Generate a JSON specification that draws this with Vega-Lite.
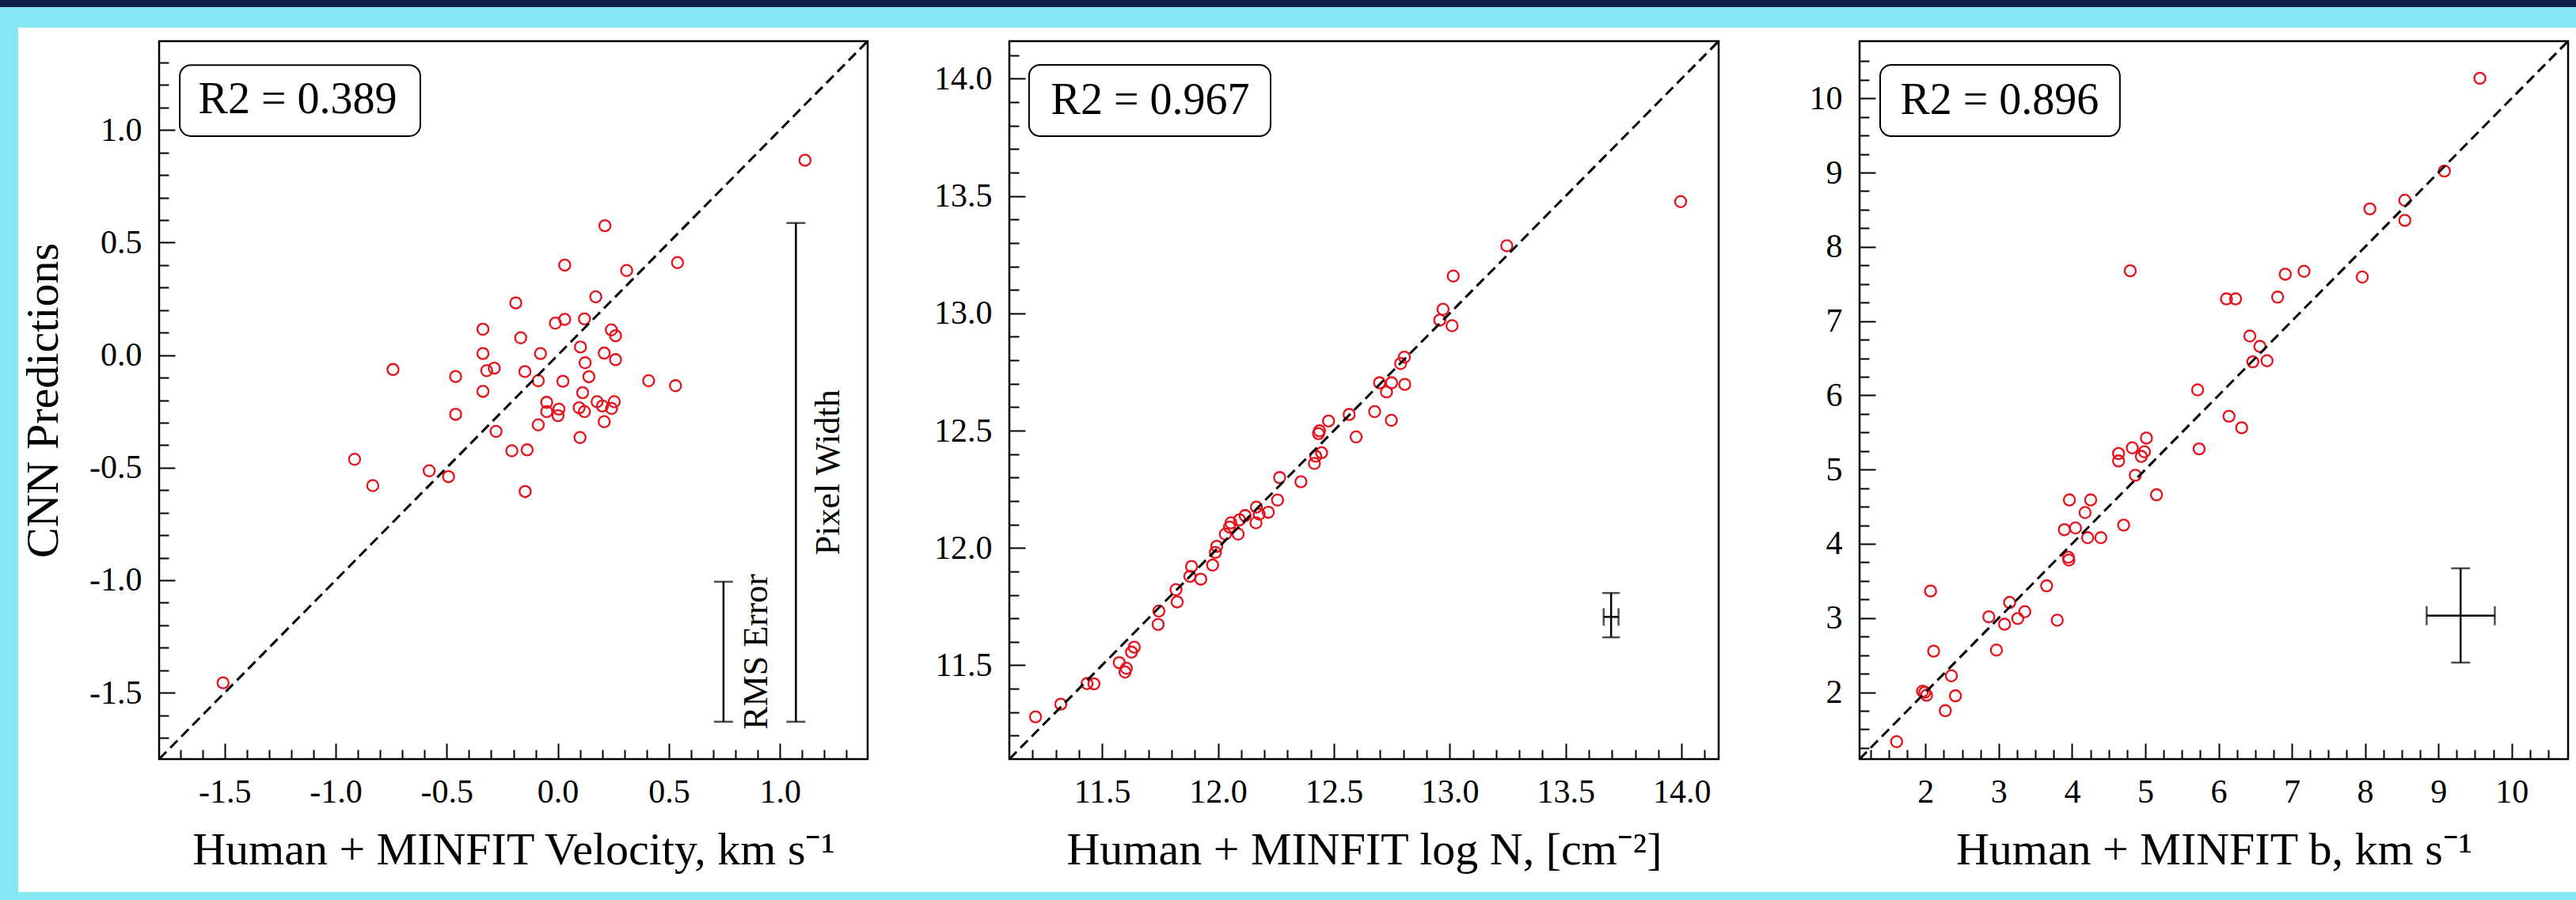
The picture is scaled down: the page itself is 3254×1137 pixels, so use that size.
{
  "$schema": "https://vega.github.io/schema/vega-lite/v6.json",
  "padding": 0,
  "background": "white",
  "bounds": "flush",
  "align": "each",
  "spacing": 0,
  "columns": 8,
  "config": {
    "view": {"stroke": null},
    "font": "Liberation Serif",
    "axis": {
      "grid": false, "domain": false, "tickColor": "black", "tickWidth": 2,
      "labelFont": "Liberation Serif", "labelFontSize": 42, "labelColor": "black",
      "labelFlush": false, "labelBound": false,
      "titleFont": "Liberation Serif", "titleFontSize": 58, "titleFontWeight": "normal", "titleColor": "black"
    }
  },
  "datasets": {
    "velocity": [
      {"human": 1.113, "cnn": 0.866}, {"human": 0.212, "cnn": 0.575}, {"human": 0.031, "cnn": 0.400}, {"human": 0.310, "cnn": 0.376},
      {"human": 0.539, "cnn": 0.411}, {"human": 0.171, "cnn": 0.259}, {"human": -0.189, "cnn": 0.232}, {"human": -0.011, "cnn": 0.142},
      {"human": 0.031, "cnn": 0.159}, {"human": 0.120, "cnn": 0.161}, {"human": -0.337, "cnn": 0.115}, {"human": -0.167, "cnn": 0.077},
      {"human": 0.241, "cnn": 0.112}, {"human": 0.260, "cnn": 0.086}, {"human": 0.102, "cnn": 0.036}, {"human": -0.078, "cnn": 0.007},
      {"human": -0.337, "cnn": 0.007}, {"human": 0.209, "cnn": 0.009}, {"human": 0.123, "cnn": -0.034}, {"human": 0.260, "cnn": -0.020},
      {"human": -0.742, "cnn": -0.064}, {"human": -0.320, "cnn": -0.069}, {"human": -0.286, "cnn": -0.058}, {"human": -0.148, "cnn": -0.073},
      {"human": -0.460, "cnn": -0.095}, {"human": 0.140, "cnn": -0.096}, {"human": -0.088, "cnn": -0.114}, {"human": 0.023, "cnn": -0.116},
      {"human": 0.409, "cnn": -0.114}, {"human": 0.530, "cnn": -0.136}, {"human": -0.337, "cnn": -0.161}, {"human": 0.112, "cnn": -0.167},
      {"human": -0.050, "cnn": -0.210}, {"human": 0.177, "cnn": -0.207}, {"human": 0.254, "cnn": -0.207}, {"human": 0.201, "cnn": -0.226},
      {"human": 0.242, "cnn": -0.237}, {"human": 0.096, "cnn": -0.234}, {"human": -0.050, "cnn": -0.251}, {"human": 0.005, "cnn": -0.240},
      {"human": 0.001, "cnn": -0.269}, {"human": 0.120, "cnn": -0.251}, {"human": -0.460, "cnn": -0.263}, {"human": 0.209, "cnn": -0.296},
      {"human": -0.088, "cnn": -0.310}, {"human": -0.278, "cnn": -0.339}, {"human": 0.100, "cnn": -0.366}, {"human": -0.207, "cnn": -0.425},
      {"human": -0.138, "cnn": -0.421}, {"human": -0.915, "cnn": -0.463}, {"human": -0.579, "cnn": -0.514}, {"human": -0.492, "cnn": -0.540},
      {"human": -0.833, "cnn": -0.580}, {"human": -0.147, "cnn": -0.606}, {"human": -1.507, "cnn": -1.456}
    ],
    "logn": [
      {"human": 11.213, "cnn": 11.280}, {"human": 11.322, "cnn": 11.334}, {"human": 11.435, "cnn": 11.422}, {"human": 11.465, "cnn": 11.421},
      {"human": 11.574, "cnn": 11.511}, {"human": 11.605, "cnn": 11.487}, {"human": 11.599, "cnn": 11.471}, {"human": 11.627, "cnn": 11.556},
      {"human": 11.639, "cnn": 11.577}, {"human": 11.742, "cnn": 11.674}, {"human": 11.745, "cnn": 11.731}, {"human": 11.824, "cnn": 11.770},
      {"human": 11.819, "cnn": 11.822}, {"human": 11.879, "cnn": 11.879}, {"human": 11.886, "cnn": 11.921}, {"human": 11.926, "cnn": 11.867},
      {"human": 11.977, "cnn": 11.927}, {"human": 11.989, "cnn": 11.981}, {"human": 11.995, "cnn": 12.007}, {"human": 12.032, "cnn": 12.059},
      {"human": 12.087, "cnn": 12.059}, {"human": 12.050, "cnn": 12.089}, {"human": 12.056, "cnn": 12.107}, {"human": 12.093, "cnn": 12.120},
      {"human": 12.117, "cnn": 12.138}, {"human": 12.164, "cnn": 12.107}, {"human": 12.178, "cnn": 12.144}, {"human": 12.166, "cnn": 12.174},
      {"human": 12.217, "cnn": 12.152}, {"human": 12.257, "cnn": 12.204}, {"human": 12.266, "cnn": 12.300}, {"human": 12.358, "cnn": 12.282},
      {"human": 12.416, "cnn": 12.360}, {"human": 12.422, "cnn": 12.391}, {"human": 12.447, "cnn": 12.406}, {"human": 12.434, "cnn": 12.487},
      {"human": 12.438, "cnn": 12.499}, {"human": 12.477, "cnn": 12.541}, {"human": 12.566, "cnn": 12.569}, {"human": 12.596, "cnn": 12.473},
      {"human": 12.676, "cnn": 12.581}, {"human": 12.727, "cnn": 12.665}, {"human": 12.697, "cnn": 12.704}, {"human": 12.749, "cnn": 12.704},
      {"human": 12.748, "cnn": 12.544}, {"human": 12.806, "cnn": 12.697}, {"human": 12.788, "cnn": 12.786}, {"human": 12.804, "cnn": 12.813},
      {"human": 12.957, "cnn": 12.971}, {"human": 12.971, "cnn": 13.017}, {"human": 13.010, "cnn": 12.947}, {"human": 13.015, "cnn": 13.159},
      {"human": 13.246, "cnn": 13.288}, {"human": 13.996, "cnn": 13.476}
    ],
    "bparam": [
      {"human": 9.566, "cnn": 10.270}, {"human": 9.082, "cnn": 9.020}, {"human": 8.065, "cnn": 8.511}, {"human": 8.542, "cnn": 8.627},
      {"human": 8.542, "cnn": 8.356}, {"human": 7.961, "cnn": 7.593}, {"human": 7.166, "cnn": 7.670}, {"human": 6.910, "cnn": 7.631},
      {"human": 6.806, "cnn": 7.323}, {"human": 4.794, "cnn": 7.677}, {"human": 6.108, "cnn": 7.299}, {"human": 6.232, "cnn": 7.299},
      {"human": 6.426, "cnn": 6.798}, {"human": 6.564, "cnn": 6.659}, {"human": 6.467, "cnn": 6.451}, {"human": 6.661, "cnn": 6.466},
      {"human": 5.714, "cnn": 6.073}, {"human": 6.142, "cnn": 5.718}, {"human": 6.315, "cnn": 5.563}, {"human": 5.734, "cnn": 5.278},
      {"human": 5.015, "cnn": 5.424}, {"human": 4.635, "cnn": 5.216}, {"human": 4.635, "cnn": 5.116}, {"human": 4.822, "cnn": 5.293},
      {"human": 4.946, "cnn": 5.177}, {"human": 4.988, "cnn": 5.239}, {"human": 4.863, "cnn": 4.923}, {"human": 5.153, "cnn": 4.660},
      {"human": 3.964, "cnn": 4.591}, {"human": 4.254, "cnn": 4.591}, {"human": 4.178, "cnn": 4.421}, {"human": 3.895, "cnn": 4.190},
      {"human": 4.047, "cnn": 4.213}, {"human": 4.213, "cnn": 4.082}, {"human": 4.393, "cnn": 4.082}, {"human": 4.704, "cnn": 4.252},
      {"human": 3.950, "cnn": 3.819}, {"human": 3.957, "cnn": 3.781}, {"human": 3.653, "cnn": 3.434}, {"human": 3.798, "cnn": 2.971},
      {"human": 3.148, "cnn": 3.210}, {"human": 3.355, "cnn": 3.086}, {"human": 3.259, "cnn": 2.994}, {"human": 2.864, "cnn": 3.017},
      {"human": 3.079, "cnn": 2.917}, {"human": 2.968, "cnn": 2.569}, {"human": 2.069, "cnn": 3.364}, {"human": 2.111, "cnn": 2.554},
      {"human": 2.353, "cnn": 2.222}, {"human": 2.408, "cnn": 1.952}, {"human": 2.270, "cnn": 1.752}, {"human": 1.959, "cnn": 2.014},
      {"human": 2.014, "cnn": 1.960}, {"human": 1.990, "cnn": 2.000}, {"human": 1.606, "cnn": 1.335}
    ],
    "velErr": [
      {"name": "RMS Error", "x": 0.746, "lo": -1.629, "hi": -1.007},
      {"name": "Pixel Width", "x": 1.072, "lo": -1.629, "hi": 0.587}
    ],
    "lognErr": [{"x": 13.696, "y": 11.706, "xlo": 13.664, "xhi": 13.728, "ylo": 11.619, "yhi": 11.808}],
    "bErr": [{"x": 9.303, "y": 3.032, "xlo": 8.84, "xhi": 9.77, "ylo": 2.40, "yhi": 3.67}],
    "one": [{}],
    "none": []
  },
  "concat": [
    {"width": 23, "height": 9, "data": {"name": "none"}, "mark": "point", "view": {"fill": "#0c1f4b", "stroke": null}},
    {"width": 178, "height": 9, "data": {"name": "none"}, "mark": "point", "view": {"fill": "#0c1f4b", "stroke": null}},
    {"width": 895, "height": 9, "data": {"name": "none"}, "mark": "point", "view": {"fill": "#0c1f4b", "stroke": null}},
    {"width": 179, "height": 9, "data": {"name": "none"}, "mark": "point", "view": {"fill": "#0c1f4b", "stroke": null}},
    {"width": 896, "height": 9, "data": {"name": "none"}, "mark": "point", "view": {"fill": "#0c1f4b", "stroke": null}},
    {"width": 178, "height": 9, "data": {"name": "none"}, "mark": "point", "view": {"fill": "#0c1f4b", "stroke": null}},
    {"width": 895, "height": 9, "data": {"name": "none"}, "mark": "point", "view": {"fill": "#0c1f4b", "stroke": null}},
    {"width": 10, "height": 9, "data": {"name": "none"}, "mark": "point", "view": {"fill": "#0c1f4b", "stroke": null}},

    {"width": 23, "height": 26, "data": {"name": "none"}, "mark": "point", "view": {"fill": "#84e7f2", "stroke": null}},
    {"width": 178, "height": 26, "data": {"name": "none"}, "mark": "point", "view": {"fill": "#84e7f2", "stroke": null}},
    {"width": 895, "height": 26, "data": {"name": "none"}, "mark": "point", "view": {"fill": "#84e7f2", "stroke": null}},
    {"width": 179, "height": 26, "data": {"name": "none"}, "mark": "point", "view": {"fill": "#84e7f2", "stroke": null}},
    {"width": 896, "height": 26, "data": {"name": "none"}, "mark": "point", "view": {"fill": "#84e7f2", "stroke": null}},
    {"width": 178, "height": 26, "data": {"name": "none"}, "mark": "point", "view": {"fill": "#84e7f2", "stroke": null}},
    {"width": 895, "height": 26, "data": {"name": "none"}, "mark": "point", "view": {"fill": "#84e7f2", "stroke": null}},
    {"width": 10, "height": 26, "data": {"name": "none"}, "mark": "point", "view": {"fill": "#84e7f2", "stroke": null}},

    {"width": 23, "height": 17, "data": {"name": "none"}, "mark": "point", "view": {"fill": "#84e7f2", "stroke": null}},
    {"width": 1, "height": 1, "data": {"name": "none"}, "mark": "point"},
    {"width": 1, "height": 1, "data": {"name": "none"}, "mark": "point"},
    {"width": 1, "height": 1, "data": {"name": "none"}, "mark": "point"},
    {"width": 1, "height": 1, "data": {"name": "none"}, "mark": "point"},
    {"width": 1, "height": 1, "data": {"name": "none"}, "mark": "point"},
    {"width": 1, "height": 1, "data": {"name": "none"}, "mark": "point"},
    {"width": 1, "height": 1, "data": {"name": "none"}, "mark": "point"},

    {"width": 23, "height": 907, "data": {"name": "none"}, "mark": "point", "view": {"fill": "#84e7f2", "stroke": null}},
    {"width": 1, "height": 1, "data": {"name": "none"}, "mark": "point"},
    {
      "width": 895, "height": 907,
      "view": {"stroke": "black", "strokeWidth": 2.5},
      "resolve": {"axis": {"x": "independent", "y": "independent"}},
      "layer": [
        {
          "layer": [
            {
              "data": {"name": "velocity"},
              "mark": {"type": "point", "shape": "circle", "filled": false, "color": "#e8101a", "strokeWidth": 2.3, "size": 200, "opacity": 1},
              "encoding": {
                "x": {"field": "human", "type": "quantitative", "scale": {"domain": [-1.795, 1.395], "nice": false, "zero": false},
                  "axis": {"title": "Human + MINFIT Velocity, km s⁻¹", "orient": "bottom", "values": [-1.5, -1, -0.5, 0, 0.5, 1], "tickSize": -20,
                    "labelExpr": "replace(format(datum.value, '.1f'), '−', '-')", "labelPadding": 41, "titlePadding": 24}},
                "y": {"field": "cnn", "type": "quantitative", "scale": {"domain": [-1.795, 1.395], "nice": false, "zero": false},
                  "axis": {"title": "CNN Predictions", "orient": "left", "values": [-1.5, -1, -0.5, 0, 0.5, 1], "tickSize": -20,
                    "labelExpr": "replace(format(datum.value, '.1f'), '−', '-')", "labelPadding": 42, "titlePadding": 28}}
              }
            },
            {
              "data": {"name": "velErr"},
              "mark": {"type": "rule", "color": "black", "strokeWidth": 2.5},
              "encoding": {"x": {"field": "x", "type": "quantitative"}, "y": {"field": "lo", "type": "quantitative"}, "y2": {"field": "hi"}}
            },
            {
              "data": {"name": "velErr"},
              "mark": {"type": "tick", "orient": "horizontal", "color": "black", "size": 24, "thickness": 2.5},
              "encoding": {"x": {"field": "x", "type": "quantitative"}, "y": {"field": "lo", "type": "quantitative"}}
            },
            {
              "data": {"name": "velErr"},
              "mark": {"type": "tick", "orient": "horizontal", "color": "black", "size": 24, "thickness": 2.5},
              "encoding": {"x": {"field": "x", "type": "quantitative"}, "y": {"field": "hi", "type": "quantitative"}}
            },
            {
              "data": {"name": "one"},
              "mark": {"type": "text", "text": "RMS Error", "angle": 270, "fontSize": 44, "align": "center", "baseline": "middle", "color": "black"},
              "encoding": {"x": {"datum": 0.896, "type": "quantitative"}, "y": {"datum": -1.318, "type": "quantitative"}}
            },
            {
              "data": {"name": "one"},
              "mark": {"type": "text", "text": "Pixel Width", "angle": 270, "fontSize": 44, "align": "center", "baseline": "middle", "color": "black"},
              "encoding": {"x": {"datum": 1.222, "type": "quantitative"}, "y": {"datum": -0.521, "type": "quantitative"}}
            },
            {
              "data": {"name": "one"},
              "mark": {"type": "rect", "fill": "white", "stroke": "black", "strokeWidth": 2, "cornerRadius": 14},
              "encoding": {"x": {"datum": -1.702, "type": "quantitative"}, "x2": {"datum": -0.619}, "y": {"datum": 0.973, "type": "quantitative"}, "y2": {"datum": 1.289}}
            },
            {
              "data": {"name": "one"},
              "mark": {"type": "text", "text": "R2 = 0.389", "fontSize": 56, "align": "center", "baseline": "alphabetic", "color": "black"},
              "encoding": {"x": {"datum": -1.171, "type": "quantitative"}, "y": {"datum": 1.075, "type": "quantitative"}}
            }
          ]
        },
        {
          "data": {"name": "one"},
          "mark": {"type": "rule", "color": "black", "strokeWidth": 3, "strokeDash": [13, 7]},
          "encoding": {
            "x": {"datum": -1.795, "type": "quantitative",
              "axis": {"orient": "bottom", "title": null, "labels": false, "tickSize": -12,
                "values": [-1.7,-1.6,-1.4,-1.3,-1.2,-1.1,-0.9,-0.8,-0.7,-0.6,-0.4,-0.3,-0.2,-0.1,0.1,0.2,0.3,0.4,0.6,0.7,0.8,0.9,1.1,1.2,1.3]}},
            "x2": {"datum": 1.395},
            "y": {"datum": -1.795, "type": "quantitative",
              "axis": {"orient": "left", "title": null, "labels": false, "tickSize": -12,
                "values": [-1.7,-1.6,-1.4,-1.3,-1.2,-1.1,-0.9,-0.8,-0.7,-0.6,-0.4,-0.3,-0.2,-0.1,0.1,0.2,0.3,0.4,0.6,0.7,0.8,0.9,1.1,1.2,1.3]}},
            "y2": {"datum": 1.395}
          }
        }
      ]
    },
    {"width": 1, "height": 1, "data": {"name": "none"}, "mark": "point"},
    {
      "width": 896, "height": 907,
      "view": {"stroke": "black", "strokeWidth": 2.5},
      "resolve": {"axis": {"x": "independent", "y": "independent"}},
      "layer": [
        {
          "layer": [
            {
              "data": {"name": "logn"},
              "mark": {"type": "point", "shape": "circle", "filled": false, "color": "#e8101a", "strokeWidth": 2.3, "size": 200, "opacity": 1},
              "encoding": {
                "x": {"field": "human", "type": "quantitative", "scale": {"domain": [11.1, 14.16], "nice": false, "zero": false},
                  "axis": {"title": "Human + MINFIT log N, [cm⁻²]", "orient": "bottom", "values": [11.5, 12, 12.5, 13, 13.5, 14], "tickSize": -20,
                    "format": ".1f", "labelPadding": 41, "titlePadding": 24}},
                "y": {"field": "cnn", "type": "quantitative", "scale": {"domain": [11.1, 14.16], "nice": false, "zero": false},
                  "axis": {"title": null, "orient": "left", "values": [11.5, 12, 12.5, 13, 13.5, 14], "tickSize": -20,
                    "format": ".1f", "labelPadding": 42}}
              }
            },
            {
              "data": {"name": "lognErr"},
              "mark": {"type": "rule", "color": "black", "strokeWidth": 2.5},
              "encoding": {"x": {"field": "x", "type": "quantitative"}, "y": {"field": "ylo", "type": "quantitative"}, "y2": {"field": "yhi"}}
            },
            {
              "data": {"name": "lognErr"},
              "mark": {"type": "rule", "color": "black", "strokeWidth": 2.5},
              "encoding": {"x": {"field": "xlo", "type": "quantitative"}, "x2": {"field": "xhi"}, "y": {"field": "y", "type": "quantitative"}}
            },
            {
              "data": {"name": "lognErr"},
              "mark": {"type": "tick", "orient": "horizontal", "color": "black", "size": 22, "thickness": 2.5},
              "encoding": {"x": {"field": "x", "type": "quantitative"}, "y": {"field": "ylo", "type": "quantitative"}}
            },
            {
              "data": {"name": "lognErr"},
              "mark": {"type": "tick", "orient": "horizontal", "color": "black", "size": 22, "thickness": 2.5},
              "encoding": {"x": {"field": "x", "type": "quantitative"}, "y": {"field": "yhi", "type": "quantitative"}}
            },
            {
              "data": {"name": "lognErr"},
              "mark": {"type": "tick", "orient": "vertical", "color": "black", "size": 22, "thickness": 2.5},
              "encoding": {"x": {"field": "xlo", "type": "quantitative"}, "y": {"field": "y", "type": "quantitative"}}
            },
            {
              "data": {"name": "lognErr"},
              "mark": {"type": "tick", "orient": "vertical", "color": "black", "size": 22, "thickness": 2.5},
              "encoding": {"x": {"field": "xhi", "type": "quantitative"}, "y": {"field": "y", "type": "quantitative"}}
            },
            {
              "data": {"name": "one"},
              "mark": {"type": "rect", "fill": "white", "stroke": "black", "strokeWidth": 2, "cornerRadius": 14},
              "encoding": {"x": {"datum": 11.185, "type": "quantitative"}, "x2": {"datum": 12.227}, "y": {"datum": 13.755, "type": "quantitative"}, "y2": {"datum": 14.059}}
            },
            {
              "data": {"name": "one"},
              "mark": {"type": "text", "text": "R2 = 0.967", "fontSize": 56, "align": "center", "baseline": "alphabetic", "color": "black"},
              "encoding": {"x": {"datum": 11.708, "type": "quantitative"}, "y": {"datum": 13.851, "type": "quantitative"}}
            }
          ]
        },
        {
          "data": {"name": "one"},
          "mark": {"type": "rule", "color": "black", "strokeWidth": 3, "strokeDash": [13, 7]},
          "encoding": {
            "x": {"datum": 11.1, "type": "quantitative",
              "axis": {"orient": "bottom", "title": null, "labels": false, "tickSize": -12,
                "values": [11.2,11.3,11.4,11.6,11.7,11.8,11.9,12.1,12.2,12.3,12.4,12.6,12.7,12.8,12.9,13.1,13.2,13.3,13.4,13.6,13.7,13.8,13.9,14.1]}},
            "x2": {"datum": 14.16},
            "y": {"datum": 11.1, "type": "quantitative",
              "axis": {"orient": "left", "title": null, "labels": false, "tickSize": -12,
                "values": [11.2,11.3,11.4,11.6,11.7,11.8,11.9,12.1,12.2,12.3,12.4,12.6,12.7,12.8,12.9,13.1,13.2,13.3,13.4,13.6,13.7,13.8,13.9,14.1]}},
            "y2": {"datum": 14.16}
          }
        }
      ]
    },
    {"width": 1, "height": 1, "data": {"name": "none"}, "mark": "point"},
    {
      "width": 895, "height": 907,
      "view": {"stroke": "black", "strokeWidth": 2.5},
      "resolve": {"axis": {"x": "independent", "y": "independent"}},
      "layer": [
        {
          "layer": [
            {
              "data": {"name": "bparam"},
              "mark": {"type": "point", "shape": "circle", "filled": false, "color": "#e8101a", "strokeWidth": 2.3, "size": 200, "opacity": 1},
              "encoding": {
                "x": {"field": "human", "type": "quantitative", "scale": {"domain": [1.1, 10.77], "nice": false, "zero": false},
                  "axis": {"title": "Human + MINFIT b, km s⁻¹", "orient": "bottom", "values": [2, 3, 4, 5, 6, 7, 8, 9, 10], "tickSize": -20,
                    "format": "d", "labelPadding": 41, "titlePadding": 24}},
                "y": {"field": "cnn", "type": "quantitative", "scale": {"domain": [1.1, 10.77], "nice": false, "zero": false},
                  "axis": {"title": null, "orient": "left", "values": [2, 3, 4, 5, 6, 7, 8, 9, 10], "tickSize": -20,
                    "format": "d", "labelPadding": 42}}
              }
            },
            {
              "data": {"name": "bErr"},
              "mark": {"type": "rule", "color": "black", "strokeWidth": 2.5},
              "encoding": {"x": {"field": "x", "type": "quantitative"}, "y": {"field": "ylo", "type": "quantitative"}, "y2": {"field": "yhi"}}
            },
            {
              "data": {"name": "bErr"},
              "mark": {"type": "rule", "color": "black", "strokeWidth": 2.5},
              "encoding": {"x": {"field": "xlo", "type": "quantitative"}, "x2": {"field": "xhi"}, "y": {"field": "y", "type": "quantitative"}}
            },
            {
              "data": {"name": "bErr"},
              "mark": {"type": "tick", "orient": "horizontal", "color": "black", "size": 24, "thickness": 2.5},
              "encoding": {"x": {"field": "x", "type": "quantitative"}, "y": {"field": "ylo", "type": "quantitative"}}
            },
            {
              "data": {"name": "bErr"},
              "mark": {"type": "tick", "orient": "horizontal", "color": "black", "size": 24, "thickness": 2.5},
              "encoding": {"x": {"field": "x", "type": "quantitative"}, "y": {"field": "yhi", "type": "quantitative"}}
            },
            {
              "data": {"name": "bErr"},
              "mark": {"type": "tick", "orient": "vertical", "color": "black", "size": 24, "thickness": 2.5},
              "encoding": {"x": {"field": "xlo", "type": "quantitative"}, "y": {"field": "y", "type": "quantitative"}}
            },
            {
              "data": {"name": "bErr"},
              "mark": {"type": "tick", "orient": "vertical", "color": "black", "size": 24, "thickness": 2.5},
              "encoding": {"x": {"field": "xhi", "type": "quantitative"}, "y": {"field": "y", "type": "quantitative"}}
            },
            {
              "data": {"name": "one"},
              "mark": {"type": "rect", "fill": "white", "stroke": "black", "strokeWidth": 2, "cornerRadius": 14},
              "encoding": {"x": {"datum": 1.381, "type": "quantitative"}, "x2": {"datum": 4.653}, "y": {"datum": 9.49, "type": "quantitative"}, "y2": {"datum": 10.45}}
            },
            {
              "data": {"name": "one"},
              "mark": {"type": "text", "text": "R2 = 0.896", "fontSize": 56, "align": "center", "baseline": "alphabetic", "color": "black"},
              "encoding": {"x": {"datum": 3.011, "type": "quantitative"}, "y": {"datum": 9.793, "type": "quantitative"}}
            }
          ]
        },
        {
          "data": {"name": "one"},
          "mark": {"type": "rule", "color": "black", "strokeWidth": 3, "strokeDash": [13, 7]},
          "encoding": {
            "x": {"datum": 1.1, "type": "quantitative",
              "axis": {"orient": "bottom", "title": null, "labels": false, "tickSize": -12,
                "values": [1.25,1.5,1.75,2.25,2.5,2.75,3.25,3.5,3.75,4.25,4.5,4.75,5.25,5.5,5.75,6.25,6.5,6.75,7.25,7.5,7.75,8.25,8.5,8.75,9.25,9.5,9.75,10.25,10.5]}},
            "x2": {"datum": 10.77},
            "y": {"datum": 1.1, "type": "quantitative",
              "axis": {"orient": "left", "title": null, "labels": false, "tickSize": -12,
                "values": [1.25,1.5,1.75,2.25,2.5,2.75,3.25,3.5,3.75,4.25,4.5,4.75,5.25,5.5,5.75,6.25,6.5,6.75,7.25,7.5,7.75,8.25,8.5,8.75,9.25,9.5,9.75,10.25,10.5]}},
            "y2": {"datum": 10.77}
          }
        }
      ]
    },
    {"width": 1, "height": 1, "data": {"name": "none"}, "mark": "point"},

    {"width": 23, "height": 168, "data": {"name": "none"}, "mark": "point", "view": {"fill": "#84e7f2", "stroke": null}},
    {"width": 1, "height": 1, "data": {"name": "none"}, "mark": "point"},
    {"width": 1, "height": 1, "data": {"name": "none"}, "mark": "point"},
    {"width": 1, "height": 1, "data": {"name": "none"}, "mark": "point"},
    {"width": 1, "height": 1, "data": {"name": "none"}, "mark": "point"},
    {"width": 1, "height": 1, "data": {"name": "none"}, "mark": "point"},
    {"width": 1, "height": 1, "data": {"name": "none"}, "mark": "point"},
    {"width": 1, "height": 1, "data": {"name": "none"}, "mark": "point"},

    {"width": 23, "height": 10, "data": {"name": "none"}, "mark": "point", "view": {"fill": "#84e7f2", "stroke": null}},
    {"width": 178, "height": 10, "data": {"name": "none"}, "mark": "point", "view": {"fill": "#84e7f2", "stroke": null}},
    {"width": 895, "height": 10, "data": {"name": "none"}, "mark": "point", "view": {"fill": "#84e7f2", "stroke": null}},
    {"width": 179, "height": 10, "data": {"name": "none"}, "mark": "point", "view": {"fill": "#84e7f2", "stroke": null}},
    {"width": 896, "height": 10, "data": {"name": "none"}, "mark": "point", "view": {"fill": "#84e7f2", "stroke": null}},
    {"width": 178, "height": 10, "data": {"name": "none"}, "mark": "point", "view": {"fill": "#84e7f2", "stroke": null}},
    {"width": 895, "height": 10, "data": {"name": "none"}, "mark": "point", "view": {"fill": "#84e7f2", "stroke": null}},
    {"width": 10, "height": 10, "data": {"name": "none"}, "mark": "point", "view": {"fill": "#84e7f2", "stroke": null}}
  ]
}
